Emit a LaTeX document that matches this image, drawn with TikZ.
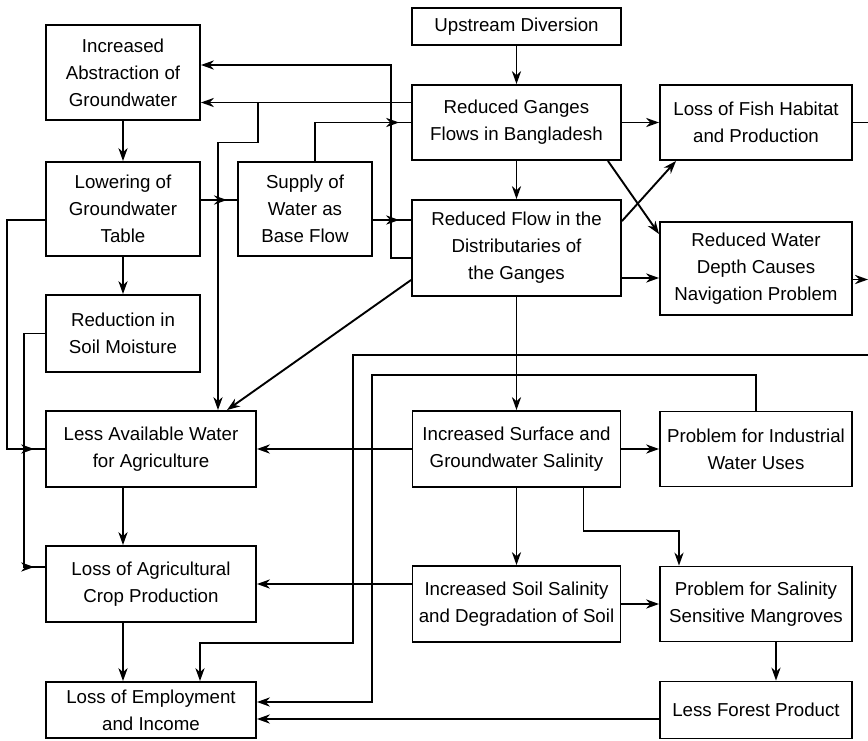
\documentclass[tikz,border=0pt]{standalone}
\usepackage{fontspec}
\setmainfont{Liberation Sans}
\usepackage{tikz}
\usetikzlibrary{arrows.meta}
\usetikzlibrary{positioning,decorations.markings}
\tikzset{>={Stealth[length=6.5pt,width=4.6pt]},
  factor/.style={draw, line width=0.95pt, align=center, inner sep=2pt,
    font=\fontsize{9.35}{13.5}\selectfont},
  tipat/.style={postaction={decorate}, decoration={markings,
    mark=at position #1 with {\arrow{>}}}}}

\begin{document}
\begin{tikzpicture}[x=1pt, y=-1pt, line width=0.95pt]
    \useasboundingbox (0,0) rectangle (434,370);
    \coordinate (edge) at (434,0);
    \coordinate (inR) at (434,177.5);
    \coordinate (fork) at (129,51.25);

    % middle column
    \node[factor, minimum width=104.5pt, minimum height=18.5pt] (up) at (258.25,13.25) {Upstream Diversion};
    \node[factor, minimum width=104.5pt, minimum height=37.5pt, node distance=48pt, below of=up] (rgf) {Reduced Ganges\\Flows in Bangladesh};
    \node[factor, minimum width=104.5pt, minimum height=48pt, node distance=62.75pt, below of=rgf] (rfd) {Reduced Flow in the\\Distributaries of\\the Ganges};
    \node[factor, minimum width=104pt, minimum height=38pt, node distance=100.5pt, below of=rfd] (isgs) {Increased Surface and\\Groundwater Salinity};
    \node[factor, minimum width=104pt, minimum height=38pt, node distance=77.5pt, below of=isgs] (iss) {Increased Soil Salinity\\and Degradation of Soil};

    % right column
    \node[factor, minimum width=96pt, minimum height=37.5pt, node distance=119.75pt, right of=rgf] (fish) {Loss of Fish Habitat\\and Production};
    \node[factor, minimum width=96pt, minimum height=46.5pt, node distance=119.75pt, right of=rfd, yshift=-10.25pt] (depth) {Reduced Water\\Depth Causes\\Navigation Problem};
    \node[factor, minimum width=96pt, minimum height=37.5pt, node distance=119.75pt, right of=isgs] (ind) {Problem for Industrial\\Water Uses};
    \node[factor, minimum width=96pt, minimum height=37.5pt, node distance=119.75pt, right of=iss] (mang) {Problem for Salinity\\Sensitive Mangroves};
    \node[factor, minimum width=96pt, minimum height=28.5pt, node distance=53pt, below of=mang] (forest) {Less Forest Product};

    % left column
    \node[factor, minimum width=77pt, minimum height=47.5pt] (abs) at (61.5,36.25) {Increased\\Abstraction of\\Groundwater};
    \node[factor, minimum width=77pt, minimum height=47pt, node distance=68.25pt, below of=abs] (low) {Lowering of\\Groundwater\\Table};
    \node[factor, minimum width=67pt, minimum height=47pt, node distance=91pt, right of=low] (sup) {Supply of\\Water as\\Base Flow};
    \node[factor, minimum width=77pt, minimum height=38.5pt, node distance=62.25pt, below of=low] (red) {Reduction in\\Soil Moisture};
    \node[factor, minimum width=105pt, minimum height=38pt, node distance=182.75pt, left of=isgs] (law) {Less Available Water\\for Agriculture};
    \node[factor, minimum width=105pt, minimum height=38pt, node distance=67.5pt, below of=law] (lac) {Loss of Agricultural\\Crop Production};
    \node[factor, minimum width=105pt, minimum height=28pt, node distance=63pt, below of=lac] (emp) {Loss of Employment\\and Income};

    % flow reduction
    \draw[->] (up) -- (rgf);
    \draw[->] (rgf) -- (rfd);
    \draw[->] (rgf) -- (fish);
    \draw[->] ([xshift=-7pt]rgf.south east) -- ([yshift=-6.5pt]depth.north west);
    \draw[->] ([yshift=-11pt]rfd.north east) -- ([xshift=8.5pt]fish.south west);
    \draw[->] ([yshift=-15pt]rfd.east) -- ([yshift=-15pt]rfd.east -| depth.west);
    \draw[->] ([yshift=-5.5pt]depth.east) -- ([yshift=-5.5pt]depth.east -| edge);
    \draw (fish.east) -- (fish.east -| edge);

    % groundwater
    \draw[->] ([yshift=10pt]rgf.west) -- ([yshift=10pt]rgf.west -| abs.east);
    \draw[->] (fork) -- ++(0,20) -| ([xshift=33.5pt]law.north);
    \draw[->] ([yshift=-5pt]rfd.west) -- ++(-10,0) |- ([yshift=3.75pt]abs.east);
    \draw[tipat=-6pt] ([xshift=5pt]sup.north) |- (rgf.west);
    \draw[tipat=-6pt] ([yshift=-5.5pt]sup.east) -- ([yshift=-5.5pt]sup.east -| rfd.west);
    \draw[tipat=13pt] ([yshift=4.5pt]low.east) -- ([yshift=4.5pt]low.east -| sup.west);
    \draw[->] (abs) -- (low);
    \draw[->] (low) -- (red);
    \draw[tipat=-5.5pt] ([yshift=-5.5pt]low.west) -- ++(-19,0) |- (law.west);
    \draw[tipat=-5.5pt] (red.west) -- ++(-10.5,0) |- ([yshift=8.5pt]lac.west);
    \draw[->] ([yshift=-16pt]rfd.west) -- ([xshift=38pt]law.north);

    % salinity
    \draw[->] (rfd) -- (isgs);
    \draw[->] (isgs) -- (law);
    \draw[->] (isgs) -- (ind);
    \draw[->] (isgs) -- (iss);
    \draw[->] ([xshift=-19pt]isgs.south east) -- ++(0,21.5) -| ([xshift=-38.5pt]mang.north);
    \draw[->] (iss.west |- lac) -- (lac);
    \draw[->] (iss) -- (mang);
    \draw[->] ([xshift=10pt]mang.south) -- ([xshift=10pt]forest.north);

    % livelihood
    \draw[->] ([xshift=-14pt]law.south) -- ([xshift=-14pt]lac.north);
    \draw[->] ([xshift=-14pt]lac.south) -- ([xshift=-14pt]emp.north);
    \draw[->] (inR) -- ++(-257.5,0) -- ++(0,144) -| ([xshift=24.5pt]emp.north);
    \draw[->] (ind.north) |- (186,187.5) |- ([yshift=4pt]emp.east);
    \draw[->] ([yshift=-4.5pt]forest.west) -- ([yshift=-4.5pt]forest.west -| emp.east);
\end{tikzpicture}
\end{document}
